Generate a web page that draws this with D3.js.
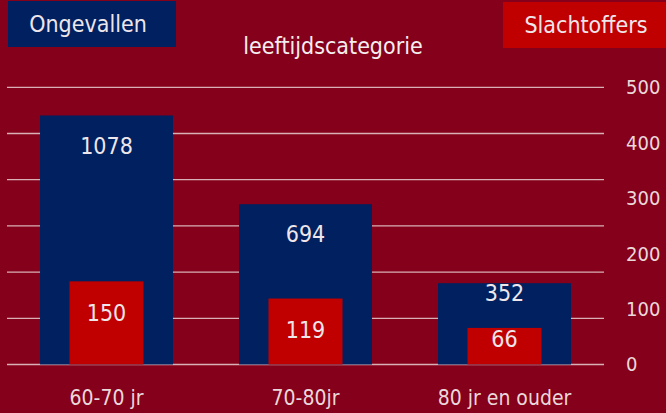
<!DOCTYPE html>
<html lang="nl">
<head>
<meta charset="UTF-8">
<title>Ongevallen en slachtoffers per leeftijdscategorie</title>
<style>
  html, body { margin: 0; padding: 0; background: #85001a; }
  svg { display: block; font-family: "DejaVu Sans Condensed", "DejaVu Sans", Verdana, sans-serif; font-stretch: condensed; }
</style>
</head>
<body>
<script src="https://cdn.jsdelivr.net/npm/d3@7"></script>
<script>
// data
const categories = ['60-70 jr', '70-80jr', '80 jr en ouder'];
const ongevallen = [1078, 694, 352];
const slachtoffers = [150, 119, 66];
const rightTicks = [0, 100, 200, 300, 400, 500];

const width = 666, height = 413;
const bg = '#85001a', navy = '#002060', red = '#c00000';
const font = '"DejaVu Sans Condensed", "DejaVu Sans", Verdana, sans-serif';

const svg = d3.select('body').append('svg')
  .attr('width', width)
  .attr('height', height);

svg.append('rect').attr('width', width).attr('height', height).attr('fill', bg);

const x = d3.scaleBand().domain(categories).range([7, 604]).padding(0);
const yLeft = d3.scaleLinear().domain([0, 1200]).range([364.5, 87.3]);
const yRight = d3.scaleLinear().domain([0, 500]).range([364.5, 87.3]);

// gridlines (hidden left axis 0-1200)
svg.append('g').selectAll('line')
  .data(yLeft.ticks(6))
  .join('line')
  .attr('x1', 7).attr('x2', 604)
  .attr('y1', d => yLeft(d)).attr('y2', d => yLeft(d))
  .attr('stroke', '#d9b0b6').attr('stroke-width', 1.3);

// right axis
const axis = svg.append('g')
  .attr('transform', 'translate(620,0)')
  .call(d3.axisRight(yRight).tickValues(rightTicks).tickSize(0).tickPadding(6));
axis.select('.domain').remove();
axis.selectAll('text')
  .attr('fill', '#ead8da')
  .style('font-size', '20px')
  .style('font-family', font);

const navyW = x.bandwidth() * 0.668;
const redW = x.bandwidth() * 0.372;

const rows = categories.map((c, i) => ({ c, o: ongevallen[i], s: slachtoffers[i] }));

// Ongevallen bars
svg.append('g').selectAll('rect')
  .data(rows)
  .join('rect')
  .attr('x', d => x(d.c) + (x.bandwidth() - navyW) / 2)
  .attr('width', navyW)
  .attr('y', d => yLeft(d.o))
  .attr('height', d => yLeft(0) - yLeft(d.o))
  .attr('fill', navy);

// Slachtoffers bars
svg.append('g').selectAll('rect')
  .data(rows)
  .join('rect')
  .attr('x', d => x(d.c) + (x.bandwidth() - redW) / 2)
  .attr('width', redW)
  .attr('y', d => yRight(d.s))
  .attr('height', d => yRight(0) - yRight(d.s))
  .attr('fill', red);

// value labels
const labelColor = '#eee6ea';
svg.append('g').selectAll('text')
  .data(rows)
  .join('text')
  .attr('x', d => x(d.c) + x.bandwidth() / 2)
  .attr('y', d => {
    const top = yLeft(d.o);
    const gap = yRight(d.s) - top;
    return top + (gap < 60 ? 10 : 30);
  })
  .attr('dy', '0.36em')
  .attr('text-anchor', 'middle')
  .attr('fill', labelColor)
  .style('font-size', '23px')
  .text(d => d.o);

svg.append('g').selectAll('text')
  .data(rows)
  .join('text')
  .attr('x', d => x(d.c) + x.bandwidth() / 2)
  .attr('y', d => {
    const top = yRight(d.s);
    return top + (yRight(0) - top < 50 ? 11 : 31);
  })
  .attr('dy', '0.36em')
  .attr('text-anchor', 'middle')
  .attr('fill', labelColor)
  .style('font-size', '23px')
  .text(d => d.s);

// category labels
svg.append('g').selectAll('text')
  .data(categories)
  .join('text')
  .attr('x', d => x(d) + x.bandwidth() / 2)
  .attr('y', 397)
  .attr('dy', '0.36em')
  .attr('text-anchor', 'middle')
  .attr('fill', '#ead8da')
  .style('font-size', '21px')
  .text(d => d);

// title
svg.append('text')
  .attr('x', 333).attr('y', 46)
  .attr('dy', '0.36em')
  .attr('text-anchor', 'middle')
  .attr('fill', '#f4eef0')
  .style('font-size', '23px')
  .text('leeftijdscategorie');

// legend boxes
svg.append('rect').attr('x', 8).attr('y', 1).attr('width', 168).attr('height', 46).attr('fill', navy);
svg.append('text')
  .attr('x', 88).attr('y', 24).attr('dy', '0.36em')
  .attr('text-anchor', 'middle')
  .attr('fill', '#eee6ea')
  .style('font-size', '23px')
  .text('Ongevallen');

svg.append('rect').attr('x', 503).attr('y', 2).attr('width', 163).attr('height', 46).attr('fill', red);
svg.append('text')
  .attr('x', 586).attr('y', 25).attr('dy', '0.36em')
  .attr('text-anchor', 'middle')
  .attr('fill', '#eee6ea')
  .style('font-size', '23px')
  .text('Slachtoffers');
</script>
</body>
</html>
